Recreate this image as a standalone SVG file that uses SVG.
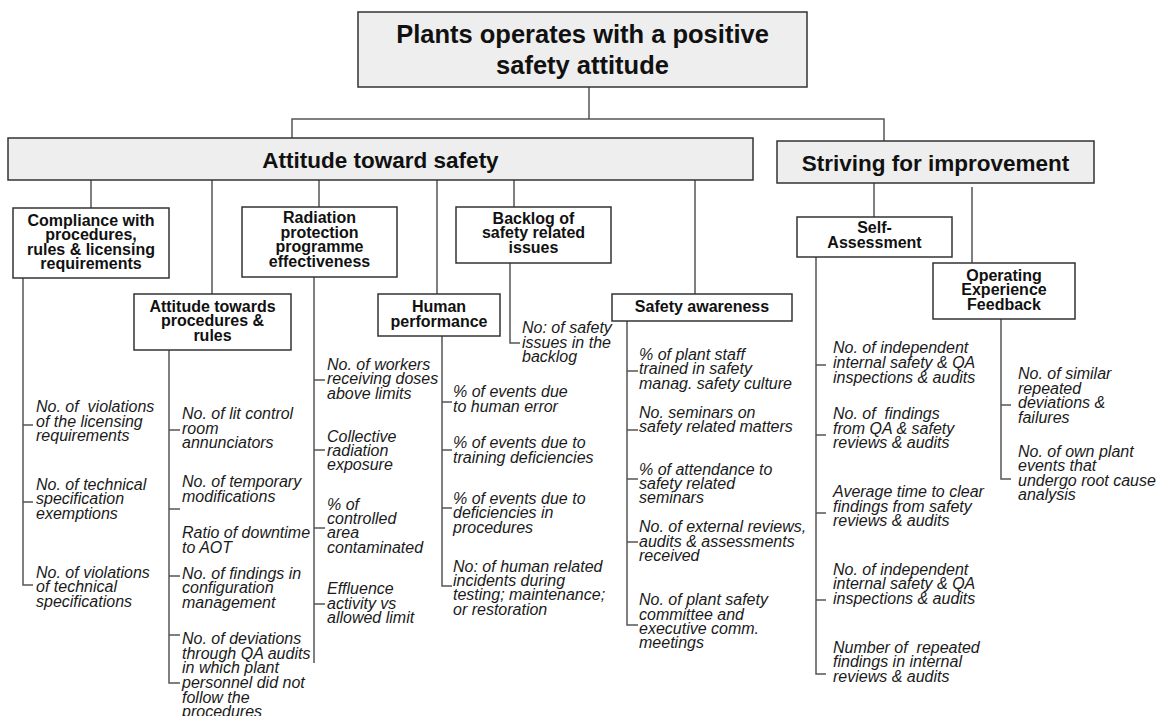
<svg xmlns="http://www.w3.org/2000/svg" width="1163" height="716" viewBox="0 0 1163 716">
<style>
.bg{fill:#ffffff}
.b1{fill:#eeeeee;stroke:#333;stroke-width:1.5}
.b2{fill:#ffffff;stroke:#333;stroke-width:1.5}
.c{fill:none;stroke:#555;stroke-width:1.5}
.t0{font-family:"Liberation Sans",Arial,sans-serif;font-weight:bold;font-size:25.5px;fill:#111;text-anchor:middle}
.t1{font-family:"Liberation Sans",Arial,sans-serif;font-weight:bold;font-size:22.5px;fill:#111;text-anchor:middle}
.t2{font-family:"Liberation Sans",Arial,sans-serif;font-weight:bold;font-size:16px;fill:#111;text-anchor:middle}
.ti{font-family:"Liberation Sans",Arial,sans-serif;font-style:italic;font-size:16px;fill:#1a1a1a;white-space:pre}
</style>
<rect class="bg" x="0" y="0" width="1163" height="716"/>
<g id="connectors">
<path class="c" d="M589 87V119M292 138V119H884V141"/>
<path class="c" d="M91 180V208M212 180V294M319 180V207M437 180V294M514 180V207M695 180V294"/>
<path class="c" d="M874 183V217M972 187V263"/>
<path class="c" d="M23 278V585H33M23 425H33M23 502H33"/>
<path class="c" d="M169 350V683H180M169 430H180M169 509H180M169 576H180M169 635H180"/>
<path class="c" d="M314 277V663M314 380H325M314 450H325M314 528H325M314 604H325"/>
<path class="c" d="M442 336V586H452M442 402H452M442 450H452M442 508H452"/>
<path class="c" d="M510 263V343H520"/>
<path class="c" d="M627 321V625H638M627 371H638M627 430H638M627 479H638M627 542H638"/>
<path class="c" d="M816 257V674H826M816 365H826M816 435H826M816 513H826M816 600H826"/>
<path class="c" d="M1001 319V479H1011M1001 405H1011"/>
</g>
<g id="root">
<rect class="b1" x="358" y="12" width="449" height="75"/>
<text class="t0" x="582.5" y="43">Plants operates with a positive</text>
<text class="t0" x="582.5" y="74">safety attitude</text>
</g>
<g id="attitude">
<rect class="b1" x="8" y="138" width="745" height="42"/>
<text class="t1" x="380.5" y="168">Attitude toward safety</text>
</g>
<g id="striving">
<rect class="b1" x="777" y="141" width="317" height="42"/>
<text class="t1" x="935.5" y="171">Striving for improvement</text>
</g>
<g id="compliance">
<rect class="b2" x="13" y="208" width="156" height="70"/>
<text class="t2" x="91"><tspan x="91" y="226">Compliance with</tspan><tspan x="91" y="240">procedures,</tspan><tspan x="91" y="255">rules &amp; licensing</tspan><tspan x="91" y="269">requirements</tspan></text>
<text class="ti" xml:space="preserve"><tspan x="36" y="412">No. of  violations</tspan><tspan x="36" y="427">of the licensing</tspan><tspan x="36" y="441">requirements</tspan></text>
<text class="ti"><tspan x="36" y="490">No. of technical</tspan><tspan x="36" y="504">specification</tspan><tspan x="36" y="519">exemptions</tspan></text>
<text class="ti"><tspan x="36" y="578">No. of violations</tspan><tspan x="36" y="592">of technical</tspan><tspan x="36" y="607">specifications</tspan></text>
</g>
<g id="procedures">
<rect class="b2" x="134" y="294" width="157" height="56"/>
<text class="t2"><tspan x="212.5" y="312">Attitude towards</tspan><tspan x="212.5" y="326">procedures &amp;</tspan><tspan x="212.5" y="341">rules</tspan></text>
<text class="ti"><tspan x="182" y="419">No. of lit control</tspan><tspan x="182" y="434">room</tspan><tspan x="182" y="448">annunciators</tspan></text>
<text class="ti"><tspan x="182" y="487">No. of temporary</tspan><tspan x="182" y="502">modifications</tspan></text>
<text class="ti"><tspan x="182" y="538">Ratio of downtime</tspan><tspan x="182" y="553">to AOT</tspan></text>
<text class="ti"><tspan x="182" y="579">No. of findings in</tspan><tspan x="182" y="593">configuration</tspan><tspan x="182" y="608">management</tspan></text>
<text class="ti"><tspan x="182" y="644">No. of deviations</tspan><tspan x="182" y="659">through QA audits</tspan><tspan x="182" y="673">in which plant</tspan><tspan x="182" y="688">personnel did not</tspan><tspan x="182" y="703">follow the</tspan><tspan x="182" y="717">procedures</tspan></text>
</g>
<g id="radiation">
<rect class="b2" x="242" y="207" width="155" height="70"/>
<text class="t2"><tspan x="319.5" y="223">Radiation</tspan><tspan x="319.5" y="238">protection</tspan><tspan x="319.5" y="252">programme</tspan><tspan x="319.5" y="267">effectiveness</tspan></text>
<text class="ti"><tspan x="327" y="370">No. of workers</tspan><tspan x="327" y="384">receiving doses</tspan><tspan x="327" y="399">above limits</tspan></text>
<text class="ti"><tspan x="327" y="442">Collective</tspan><tspan x="327" y="456">radiation</tspan><tspan x="327" y="470">exposure</tspan></text>
<text class="ti"><tspan x="327" y="510">% of</tspan><tspan x="327" y="524">controlled</tspan><tspan x="327" y="538">area</tspan><tspan x="327" y="553">contaminated</tspan></text>
<text class="ti"><tspan x="327" y="594">Effluence</tspan><tspan x="327" y="609">activity vs</tspan><tspan x="327" y="623">allowed limit</tspan></text>
</g>
<g id="human">
<rect class="b2" x="378" y="294" width="122" height="42"/>
<text class="t2"><tspan x="439" y="312">Human</tspan><tspan x="439" y="327">performance</tspan></text>
<text class="ti"><tspan x="453" y="397">% of events due</tspan><tspan x="453" y="412">to human error</tspan></text>
<text class="ti"><tspan x="453" y="448">% of events due to</tspan><tspan x="453" y="463">training deficiencies</tspan></text>
<text class="ti"><tspan x="453" y="504">% of events due to</tspan><tspan x="453" y="518">deficiencies in</tspan><tspan x="453" y="533">procedures</tspan></text>
<text class="ti"><tspan x="453" y="572">No: of human related</tspan><tspan x="453" y="586">incidents during</tspan><tspan x="453" y="600">testing; maintenance;</tspan><tspan x="453" y="615">or restoration</tspan></text>
</g>
<g id="backlog">
<rect class="b2" x="456" y="207" width="155" height="56"/>
<text class="t2"><tspan x="533.5" y="224">Backlog of</tspan><tspan x="533.5" y="238">safety related</tspan><tspan x="533.5" y="253">issues</tspan></text>
<text class="ti"><tspan x="522" y="333">No: of safety</tspan><tspan x="522" y="348">issues in the</tspan><tspan x="522" y="362">backlog</tspan></text>
</g>
<g id="awareness">
<rect class="b2" x="612" y="294" width="180" height="27"/>
<text class="t2" x="702" y="312">Safety awareness</text>
<text class="ti"><tspan x="639" y="360">% of plant staff</tspan><tspan x="639" y="374">trained in safety</tspan><tspan x="639" y="389">manag. safety culture</tspan></text>
<text class="ti"><tspan x="639" y="418">No. seminars on</tspan><tspan x="639" y="432">safety related matters</tspan></text>
<text class="ti"><tspan x="639" y="475">% of attendance to</tspan><tspan x="639" y="489">safety related</tspan><tspan x="639" y="503">seminars</tspan></text>
<text class="ti"><tspan x="639" y="532">No. of external reviews,</tspan><tspan x="639" y="547">audits &amp; assessments</tspan><tspan x="639" y="561">received</tspan></text>
<text class="ti"><tspan x="639" y="605">No. of plant safety</tspan><tspan x="639" y="620">committee and</tspan><tspan x="639" y="634">executive comm.</tspan><tspan x="639" y="648">meetings</tspan></text>
</g>
<g id="selfassessment">
<rect class="b2" x="797" y="217" width="155" height="40"/>
<text class="t2"><tspan x="874.5" y="233">Self-</tspan><tspan x="874.5" y="248">Assessment</tspan></text>
<text class="ti"><tspan x="833" y="353">No. of independent</tspan><tspan x="833" y="368">internal safety &amp; QA</tspan><tspan x="833" y="383">inspections &amp; audits</tspan></text>
<text class="ti" xml:space="preserve"><tspan x="833" y="419">No. of  findings</tspan><tspan x="833" y="434">from QA &amp; safety</tspan><tspan x="833" y="448">reviews &amp; audits</tspan></text>
<text class="ti"><tspan x="833" y="497">Average time to clear</tspan><tspan x="833" y="512">findings from safety</tspan><tspan x="833" y="526">reviews &amp; audits</tspan></text>
<text class="ti"><tspan x="833" y="575">No. of independent</tspan><tspan x="833" y="589">internal safety &amp; QA</tspan><tspan x="833" y="604">inspections &amp; audits</tspan></text>
<text class="ti" xml:space="preserve"><tspan x="833" y="653">Number of  repeated</tspan><tspan x="833" y="667">findings in internal</tspan><tspan x="833" y="682">reviews &amp; audits</tspan></text>
</g>
<g id="oef">
<rect class="b2" x="933" y="263" width="142" height="56"/>
<text class="t2"><tspan x="1004" y="281">Operating</tspan><tspan x="1004" y="295">Experience</tspan><tspan x="1004" y="310">Feedback</tspan></text>
<text class="ti"><tspan x="1018" y="379">No. of similar</tspan><tspan x="1018" y="394">repeated</tspan><tspan x="1018" y="408">deviations &amp;</tspan><tspan x="1018" y="423">failures</tspan></text>
<text class="ti"><tspan x="1018" y="457">No. of own plant</tspan><tspan x="1018" y="471">events that</tspan><tspan x="1018" y="486">undergo root cause</tspan><tspan x="1018" y="500">analysis</tspan></text>
</g>
</svg>
